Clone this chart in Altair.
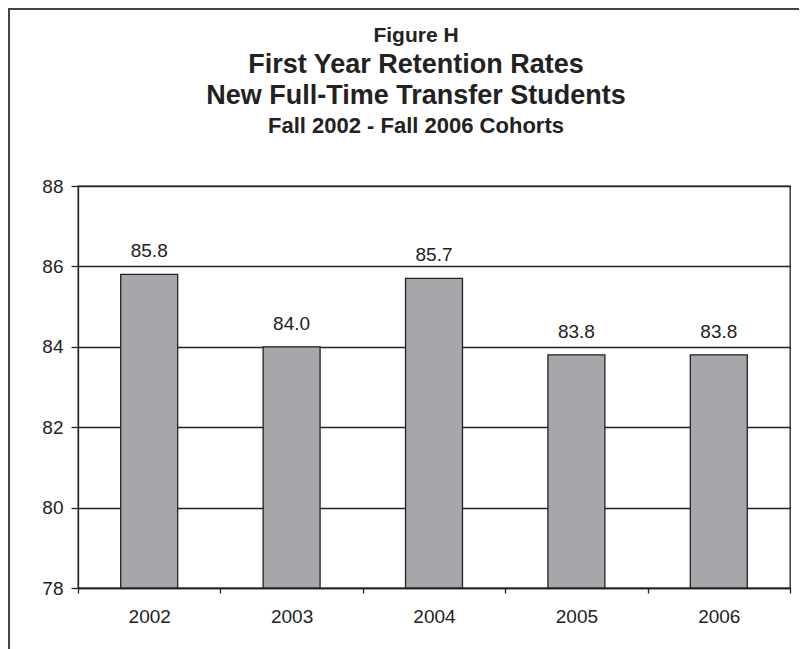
import altair as alt
import pandas as pd

years = ["2002", "2003", "2004", "2005", "2006"]
rates = [85.8, 84.0, 85.7, 83.8, 83.8]
y_ticks = [78, 80, 82, 84, 86, 88]
figure_label = "Figure H"
title_lines = ["First Year Retention Rates", "New Full-Time Transfer Students"]
subtitle_line = "Fall 2002 -  Fall 2006 Cohorts"

FONT = "Liberation Sans"
INK = "#222222"

df = pd.DataFrame({"year": years, "rate": rates})

W, H = 712, 402
PAD = {"left": 70, "top": 178, "right": 9, "bottom": 61}

x_enc = alt.X(
    "year:N",
    sort=years,
    scale=alt.Scale(paddingInner=0, paddingOuter=0),
    axis=alt.Axis(
        title=None, labelAngle=0, labelFont=FONT, labelFontSize=19,
        labelColor=INK, tickColor=INK, tickSize=5, tickWidth=1.3,
        domainColor=INK, domainWidth=1.3, labelPadding=14,
        tickBand="extent", grid=False,
    ),
)
y_enc = alt.Y(
    "rate:Q",
    scale=alt.Scale(domain=[78, 88], nice=False, zero=False),
    axis=alt.Axis(
        title=None, values=y_ticks, format="d", labelFont=FONT,
        labelFontSize=19, labelColor=INK, tickColor=INK, tickSize=7,
        tickWidth=1.3, domainColor=INK, domainWidth=1.3, labelPadding=8,
        grid=True, gridColor=INK, gridWidth=1.3, gridOpacity=1,
    ),
)

base = alt.Chart(df)

bars = base.mark_bar(
    width=alt.RelativeBandSize(0.4), color="#a6a7ab",
    stroke=INK, strokeWidth=1.3,
).encode(x=x_enc, y=y_enc, y2=alt.datum(78))

labels = base.mark_text(
    font=FONT, fontSize=19, color=INK, baseline="middle", dy=-23,
).encode(
    x=alt.X("year:N", sort=years),
    y=alt.Y("rate:Q"),
    text=alt.Text("rate:Q", format=".1f"),
)


def title_text(text, size, ypos):
    return alt.Chart(pd.DataFrame({"t": [text]})).mark_text(
        font=FONT, fontSize=size, fontWeight="bold", color=INK,
        baseline="alphabetic", align="center",
    ).encode(text="t:N", x=alt.value(338), y=alt.value(ypos))


titles = [
    title_text(figure_label, 21, -144),
    title_text(title_lines[0], 27, -113),
    title_text(title_lines[1], 27, -82),
    title_text(subtitle_line, 22, -53),
]

frame_df = pd.DataFrame({"t": ["frame"]})
frame_top = alt.Chart(frame_df).mark_rule(color="#444444", strokeWidth=2).encode(
    x=alt.value(-70), x2=alt.value(W + 9), y=alt.value(-177)
)
frame_left = alt.Chart(frame_df).mark_rule(color="#444444", strokeWidth=2).encode(
    x=alt.value(-69), y=alt.value(-178), y2=alt.value(H + 61)
)

chart = alt.layer(bars, labels, *titles, frame_top, frame_left).properties(
    width=W,
    height=H,
    padding=PAD,
    autosize=alt.AutoSizeParams(type="none"),
    background="white",
).configure_view(stroke=INK, strokeWidth=1.3)

chart.save("out.html", embed_options={"renderer": "svg", "actions": False})
